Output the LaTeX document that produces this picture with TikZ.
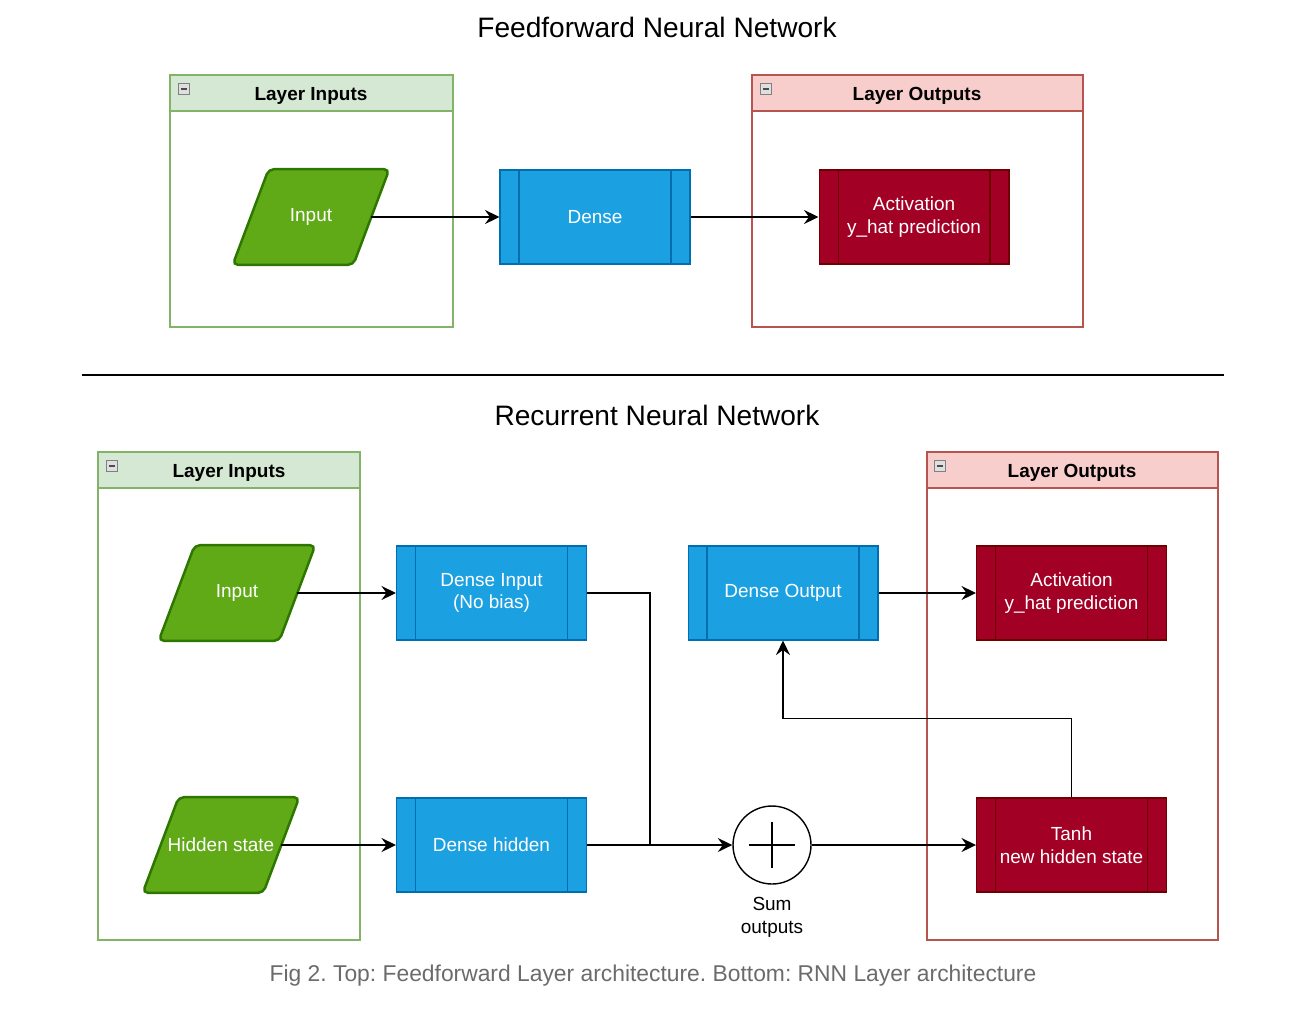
\documentclass[tikz,border=0pt]{standalone}
\usepackage{fontspec}
\setmainfont{Liberation Sans}
\usetikzlibrary{arrows.meta,backgrounds}
\definecolor{grnfill}{HTML}{60A917}
\definecolor{grnline}{HTML}{2D7600}
\definecolor{grnhead}{HTML}{D5E8D4}
\definecolor{grnframe}{HTML}{82B366}
\definecolor{bluefill}{HTML}{1BA1E2}
\definecolor{blueline}{HTML}{006EAF}
\definecolor{redfill}{HTML}{A20025}
\definecolor{redline}{HTML}{6F0000}
\definecolor{redhead}{HTML}{F8CECC}
\definecolor{redframe}{HTML}{B85450}
\definecolor{capgray}{HTML}{6B6B6B}
\frenchspacing

\begin{document}
\begin{tikzpicture}[x=0.02cm,y=-0.02cm,
        font=\fontsize{10.8}{13}\selectfont,
        >={Stealth[length=2.9mm,width=2.8mm,inset=1mm]},
        wire/.style={line width=1pt},
        dataio/.style={rectangle, minimum width=2.4cm, minimum height=1.9cm,
            inner sep=0pt, text=white},
        ioshape/.style={draw=grnline, fill=grnfill, line width=1.4pt, rounded corners=3pt},
        procbox/.style={rectangle, minimum width=3.8cm, minimum height=1.88cm,
            draw=#1, line width=0.6pt, text=white, align=center,
            path picture={
                \draw[#1, line width=0.6pt] ([xshift=0.38cm]path picture bounding box.north west)
                    -- ([xshift=0.38cm]path picture bounding box.south west);
                \draw[#1, line width=0.6pt] ([xshift=-0.38cm]path picture bounding box.north east)
                    -- ([xshift=-0.38cm]path picture bounding box.south east);}},
        sumnode/.style={circle, draw, line width=0.8pt, minimum size=1.56cm, fill=white,
            path picture={
                \draw[line width=0.6pt] ([xshift=-0.46cm]path picture bounding box.center)
                    -- ([xshift=0.46cm]path picture bounding box.center);
                \draw[line width=0.6pt] ([yshift=-0.46cm]path picture bounding box.center)
                    -- ([yshift=0.46cm]path picture bounding box.center);}},
        headtext/.style={font=\fontsize{10.8}{13}\selectfont\bfseries},
        titletext/.style={font=\fontsize{16}{19}\selectfont}]
        \useasboundingbox (0,0) rectangle (1314,1011);
        % feedforward part
        \node[titletext] (fftitle) at (657,27) {Feedforward Neural Network};
        \draw[grnframe, line width=0.7pt] (170,75) rectangle (453,327);
        \draw[grnframe, line width=0.7pt, fill=grnhead] (170,75) rectangle (453,111);
        \node[headtext] (ffinhead) at (311,96) {Layer Inputs};
        \draw[redframe, line width=0.7pt] (752,75) rectangle (1083,327);
        \draw[redframe, line width=0.7pt, fill=redhead] (752,75) rectangle (1083,111);
        \node[headtext] (ffouthead) at (917,96) {Layer Outputs};
        \node[dataio] (ffin) at (311,217) {Input};
        \node[procbox=blueline, fill=bluefill] (ffdense) at (595,217) {Dense};
        \node[procbox=redline, fill=redfill] (ffact) at (914,217) {Activation\\y\_hat prediction};
        \draw[wire,->] (ffin) -- (ffdense);
        \draw[wire,->] (ffdense) -- (ffact);
        \draw[line width=0.9pt] (82,375) -- (1224,375);
        % recurrent part
        \node[titletext] (rntitle) at (657,415) {Recurrent Neural Network};
        \draw[grnframe, line width=0.7pt] (98,452) rectangle (360,940);
        \draw[grnframe, line width=0.7pt, fill=grnhead] (98,452) rectangle (360,488);
        \node[headtext] (rninhead) at (229,473) {Layer Inputs};
        \draw[redframe, line width=0.7pt] (927,452) rectangle (1218,940);
        \draw[redframe, line width=0.7pt, fill=redhead] (927,452) rectangle (1218,488);
        \node[headtext] (rnouthead) at (1072,473) {Layer Outputs};
        \foreach \ix/\iy in {184/89, 766/89, 112/466, 940/466} {
            \draw[gray, fill=gray!25, line width=0.4pt] (\ix-5.5,\iy-5.5) rectangle (\ix+5.5,\iy+5.5);
            \draw[black!70, line width=0.6pt] (\ix-3,\iy) -- (\ix+3,\iy);
        }
        \node[dataio] (rnin) at (237,593) {Input};
        \node[dataio] (rnhid) at (221,845) {Hidden state};
        \node[procbox=blueline, fill=bluefill] (rndin) at (491.5,593) {Dense Input\\(No bias)};
        \node[procbox=blueline, fill=bluefill] (rndhid) at (491.5,845) {Dense hidden};
        \node[procbox=blueline, fill=bluefill] (rndout) at (783,593) {Dense Output};
        \node[procbox=redline, fill=redfill] (rnact) at (1071.5,593) {Activation\\y\_hat prediction};
        \node[procbox=redline, fill=redfill] (rntanh) at (1071.5,845) {Tanh\\new hidden state};
        \node[sumnode] (rnsum) at (772,845) {};
        \node[align=center] (sumlbl) at (772,917) {Sum\\outputs};
        % parallelograms behind the input nodes
        \begin{scope}[on background layer]
            \foreach \nd in {ffin, rnin, rnhid}
                \draw[ioshape] ([xshift=-0.36cm]\nd.south west) -- ([xshift=0.36cm]\nd.north west)
                    -- ([xshift=0.36cm]\nd.north east) -- ([xshift=-0.36cm]\nd.south east) -- cycle;
        \end{scope}
        \coordinate (join) at (650,845);
        \draw[wire,->] (rnin) -- (rndin);
        \draw[wire,->] (rnhid) -- (rndhid);
        \draw[wire] (rndin.east) -| (join);
        \draw[wire,->] (rndhid) -- (rnsum);
        \draw[wire,->] (rnsum) -- (rntanh);
        \draw[wire,->] (rndout) -- (rnact);
        \draw[wire,->] (rntanh.north) -- ++(0,-79) -| (rndout.south);
        \node[text=capgray, font=\fontsize{13}{15}\selectfont] (caption) at (653,976)
            {Fig 2. Top: Feedforward Layer architecture. Bottom: RNN Layer architecture};
\end{tikzpicture}
\end{document}
